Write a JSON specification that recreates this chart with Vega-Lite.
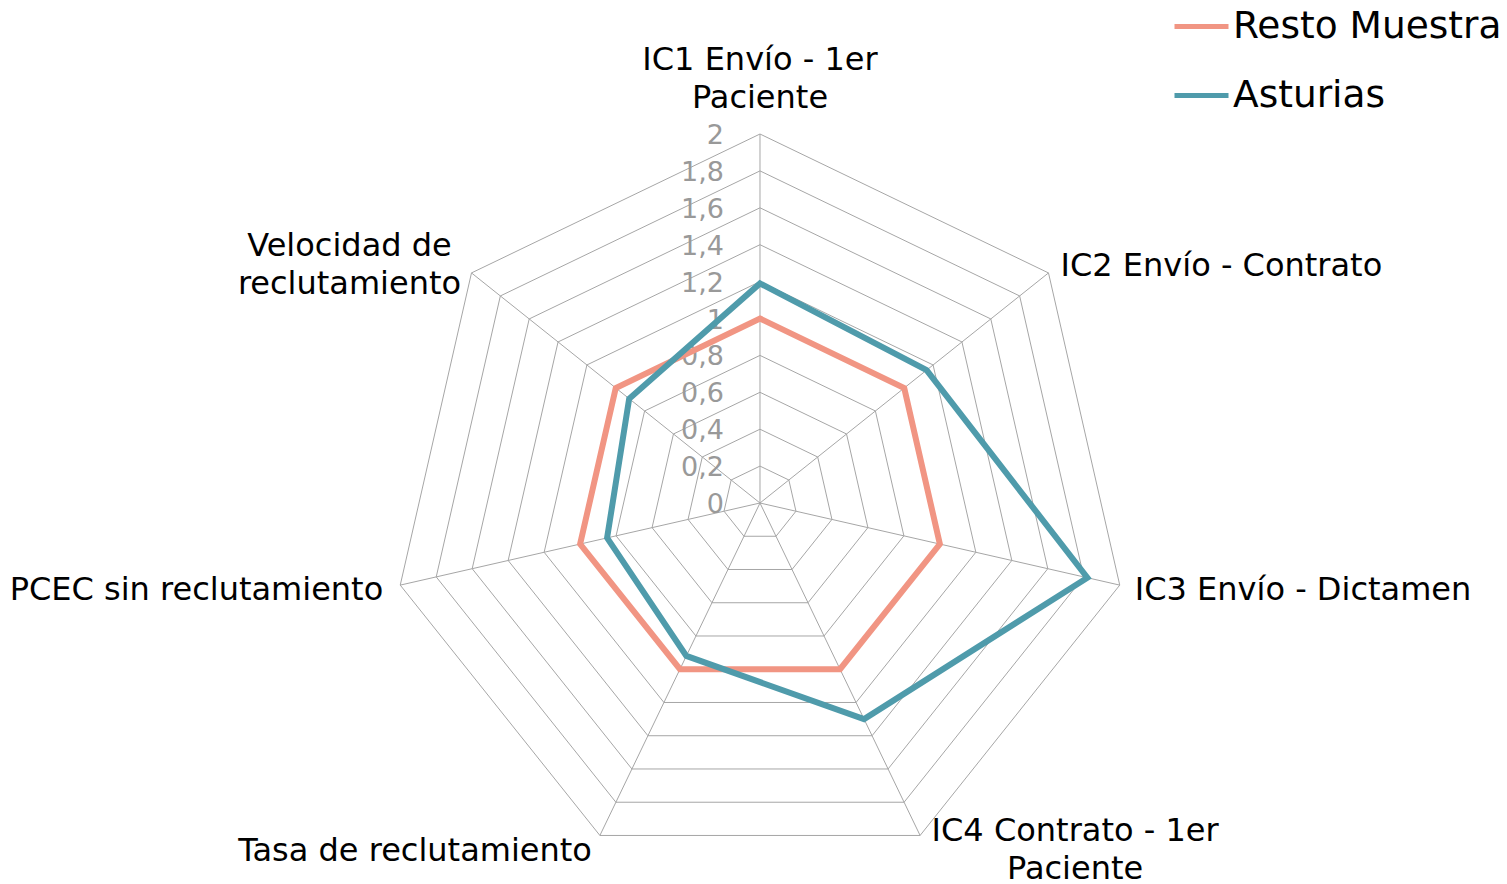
{
  "$schema": "https://vega.github.io/schema/vega-lite/v6.json",
  "width": 1507,
  "height": 884,
  "padding": 0,
  "autosize": {"type": "none"},
  "background": "white",
  "config": {"view": {"stroke": null}, "font": "DejaVu Sans"},
  "datasets": {
    "series": [
      {"series": "Resto Muestra", "idx": 0, "axis": "IC1 Envío - 1er Paciente", "value": 1.0},
      {"series": "Resto Muestra", "idx": 1, "axis": "IC2 Envío - Contrato", "value": 1.0},
      {"series": "Resto Muestra", "idx": 2, "axis": "IC3 Envío - Dictamen", "value": 1.0},
      {"series": "Resto Muestra", "idx": 3, "axis": "IC4 Contrato - 1er Paciente", "value": 1.0},
      {"series": "Resto Muestra", "idx": 4, "axis": "Tasa de reclutamiento", "value": 1.0},
      {"series": "Resto Muestra", "idx": 5, "axis": "PCEC sin reclutamiento", "value": 1.0},
      {"series": "Resto Muestra", "idx": 6, "axis": "Velocidad de reclutamiento", "value": 1.0},
      {"series": "Asturias", "idx": 0, "axis": "IC1 Envío - 1er Paciente", "value": 1.19},
      {"series": "Asturias", "idx": 1, "axis": "IC2 Envío - Contrato", "value": 1.155},
      {"series": "Asturias", "idx": 2, "axis": "IC3 Envío - Dictamen", "value": 1.82},
      {"series": "Asturias", "idx": 3, "axis": "IC4 Contrato - 1er Paciente", "value": 1.3},
      {"series": "Asturias", "idx": 4, "axis": "Tasa de reclutamiento", "value": 0.92},
      {"series": "Asturias", "idx": 5, "axis": "PCEC sin reclutamiento", "value": 0.85},
      {"series": "Asturias", "idx": 6, "axis": "Velocidad de reclutamiento", "value": 0.907}
    ],
    "axes": [
      {"idx": 0, "label": "IC1 Envío - 1er\nPaciente"},
      {"idx": 1, "label": "IC2 Envío - Contrato"},
      {"idx": 2, "label": "IC3 Envío - Dictamen"},
      {"idx": 3, "label": "IC4 Contrato - 1er\nPaciente"},
      {"idx": 4, "label": "Tasa de reclutamiento"},
      {"idx": 5, "label": "PCEC sin reclutamiento"},
      {"idx": 6, "label": "Velocidad de\nreclutamiento"}
    ],
    "levels": [
      {"level": 0, "label": "0", "k": [0, 1, 2, 3, 4, 5, 6]},
      {"level": 0.2, "label": "0,2", "k": [0, 1, 2, 3, 4, 5, 6]},
      {"level": 0.4, "label": "0,4", "k": [0, 1, 2, 3, 4, 5, 6]},
      {"level": 0.6, "label": "0,6", "k": [0, 1, 2, 3, 4, 5, 6]},
      {"level": 0.8, "label": "0,8", "k": [0, 1, 2, 3, 4, 5, 6]},
      {"level": 1.0, "label": "1", "k": [0, 1, 2, 3, 4, 5, 6]},
      {"level": 1.2, "label": "1,2", "k": [0, 1, 2, 3, 4, 5, 6]},
      {"level": 1.4, "label": "1,4", "k": [0, 1, 2, 3, 4, 5, 6]},
      {"level": 1.6, "label": "1,6", "k": [0, 1, 2, 3, 4, 5, 6]},
      {"level": 1.8, "label": "1,8", "k": [0, 1, 2, 3, 4, 5, 6]},
      {"level": 2.0, "label": "2", "k": [0, 1, 2, 3, 4, 5, 6]}
    ]
  },
  "encoding": {
    "x": {"field": "px", "type": "quantitative", "axis": null, "scale": {"domain": [-4.1192, 4.0488], "nice": false, "zero": false}},
    "y": {"field": "py", "type": "quantitative", "axis": null, "scale": {"domain": [-2.065, 2.7263], "nice": false, "zero": false}}
  },
  "layer": [
    {
      "data": {"name": "levels"},
      "transform": [
        {"filter": "datum.level > 0"},
        {"flatten": ["k"]},
        {"calculate": "datum.level * sin(datum.k * 2 * PI / 7)", "as": "px"},
        {"calculate": "datum.level * cos(datum.k * 2 * PI / 7)", "as": "py"}
      ],
      "mark": {"type": "line", "interpolate": "linear-closed", "stroke": "#A6A6A6", "strokeWidth": 1},
      "encoding": {"detail": {"field": "level", "type": "nominal"}, "order": {"field": "k", "type": "quantitative"}}
    },
    {
      "data": {"name": "axes"},
      "transform": [
        {"calculate": "2 * sin(datum.idx * 2 * PI / 7)", "as": "px"},
        {"calculate": "2 * cos(datum.idx * 2 * PI / 7)", "as": "py"},
        {"calculate": "0", "as": "cx"},
        {"calculate": "0", "as": "cy"}
      ],
      "layer": [
        {
          "mark": {"type": "rule", "stroke": "#A6A6A6", "strokeWidth": 1},
          "encoding": {"x2": {"field": "cx"}, "y2": {"field": "cy"}}
        },
        {
          "transform": [{"filter": "datum.idx == 0"}],
          "mark": {"type": "text", "align": "center", "baseline": "middle", "dx": 0, "dy": -74, "fontSize": 32, "lineHeight": 38, "lineBreak": "\n", "fill": "black"},
          "encoding": {"text": {"field": "label"}}
        },
        {
          "transform": [{"filter": "datum.idx == 1"}],
          "mark": {"type": "text", "align": "left", "baseline": "middle", "dx": 12, "dy": -7, "fontSize": 32, "lineHeight": 38, "lineBreak": "\n", "fill": "black"},
          "encoding": {"text": {"field": "label"}}
        },
        {
          "transform": [{"filter": "datum.idx == 2"}],
          "mark": {"type": "text", "align": "left", "baseline": "middle", "dx": 15, "dy": 5, "fontSize": 32, "lineHeight": 38, "lineBreak": "\n", "fill": "black"},
          "encoding": {"text": {"field": "label"}}
        },
        {
          "transform": [{"filter": "datum.idx == 3"}],
          "mark": {"type": "text", "align": "center", "baseline": "middle", "dx": 155, "dy": -4, "fontSize": 32, "lineHeight": 38, "lineBreak": "\n", "fill": "black"},
          "encoding": {"text": {"field": "label"}}
        },
        {
          "transform": [{"filter": "datum.idx == 4"}],
          "mark": {"type": "text", "align": "right", "baseline": "middle", "dx": -8, "dy": 16, "fontSize": 32, "lineHeight": 38, "lineBreak": "\n", "fill": "black"},
          "encoding": {"text": {"field": "label"}}
        },
        {
          "transform": [{"filter": "datum.idx == 5"}],
          "mark": {"type": "text", "align": "right", "baseline": "middle", "dx": -17, "dy": 5, "fontSize": 32, "lineHeight": 38, "lineBreak": "\n", "fill": "black"},
          "encoding": {"text": {"field": "label"}}
        },
        {
          "transform": [{"filter": "datum.idx == 6"}],
          "mark": {"type": "text", "align": "center", "baseline": "middle", "dx": -122, "dy": -27, "fontSize": 32, "lineHeight": 38, "lineBreak": "\n", "fill": "black"},
          "encoding": {"text": {"field": "label"}}
        }
      ]
    },
    {
      "data": {"name": "levels"},
      "transform": [
        {"calculate": "0", "as": "px"},
        {"calculate": "datum.level", "as": "py"}
      ],
      "mark": {"type": "text", "align": "right", "baseline": "middle", "dx": -36, "dy": 2, "fontSize": 27, "fill": "#999999"},
      "encoding": {"text": {"field": "label"}}
    },
    {
      "data": {"name": "series"},
      "transform": [
        {"filter": "datum.series == 'Resto Muestra'"},
        {"calculate": "datum.value * sin(datum.idx * 2 * PI / 7)", "as": "px"},
        {"calculate": "datum.value * cos(datum.idx * 2 * PI / 7)", "as": "py"}
      ],
      "mark": {"type": "line", "interpolate": "linear-closed", "strokeWidth": 6, "strokeJoin": "miter"},
      "encoding": {
        "color": {
          "field": "series", "type": "nominal",
          "scale": {"domain": ["Resto Muestra", "Asturias"], "range": ["#F19583", "#4F9BAB"]},
          "legend": {"orient": "none", "legendX": 1172, "legendY": -3, "title": null, "symbolType": "stroke", "symbolSize": 2916, "symbolStrokeWidth": 5, "labelFontSize": 37.5, "labelFont": "DejaVu Sans", "labelColor": "black", "labelOffset": 2, "rowPadding": 21, "padding": 0, "labelLimit": 0}
        },
        "order": {"field": "idx", "type": "quantitative"}
      }
    },
    {
      "data": {"name": "series"},
      "transform": [
        {"filter": "datum.series == 'Asturias'"},
        {"calculate": "datum.value * sin(datum.idx * 2 * PI / 7)", "as": "px"},
        {"calculate": "datum.value * cos(datum.idx * 2 * PI / 7)", "as": "py"}
      ],
      "mark": {"type": "line", "interpolate": "linear-closed", "strokeWidth": 6, "strokeJoin": "miter"},
      "encoding": {
        "color": {"field": "series", "type": "nominal"},
        "order": {"field": "idx", "type": "quantitative"}
      }
    }
  ]
}
